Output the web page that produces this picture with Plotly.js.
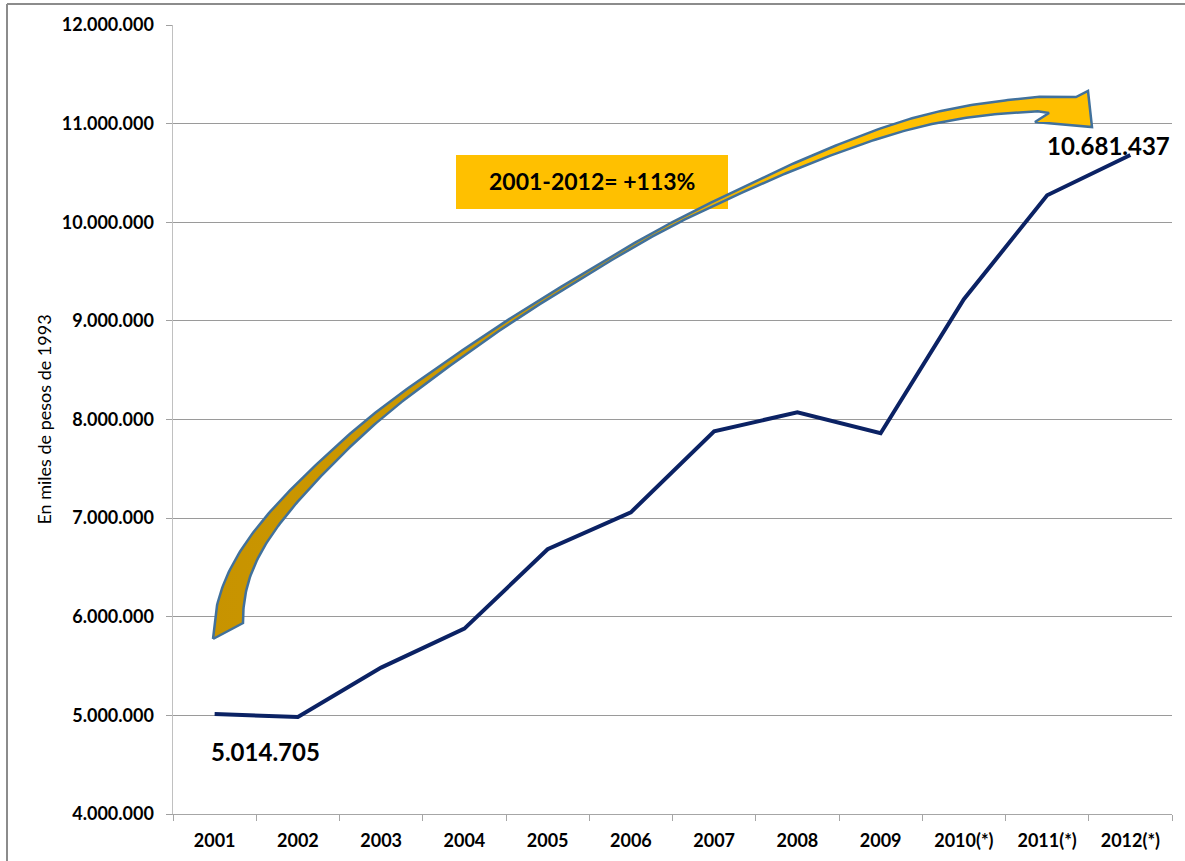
<!DOCTYPE html>
<html>
<head>
<meta charset="utf-8">
<script src="https://cdn.plot.ly/plotly-3.0.1.min.js"></script>
<style>html,body{margin:0;padding:0;background:#fff;}#chart{width:1185px;height:861px;}</style>
</head>
<body>
<div id="chart"></div>
<script>
// ---- data ----
const years = ['2001','2002','2003','2004','2005','2006','2007','2008','2009','2010(*)','2011(*)','2012(*)'];
const gdp = [5014705, 4983000, 5484000, 5879000, 6684000, 7059000, 7880000, 8073000, 7860000, 9219000, 10274000, 10681437];
const yTitle = 'En miles de pesos de 1993';

// ---- layout geometry ----
const W = 1185, H = 861, L = 173, R = 1172, T = 25, B = 814;
const FONT = 'Lato, "Open Sans", sans-serif';

function fmt(v){ return String(Math.round(v)).replace(/\B(?=(\d{3})+(?!\d))/g, '.'); }
const growth = Math.round((gdp[gdp.length-1] / gdp[0] - 1) * 100);
const growthText = years[0] + '-' + years[years.length-1].replace('(*)','') + '= +' + growth + '%';

function px2paperX(px){ return (px - L) / (R - L); }
function px2paperY(py){ return (B - py) / (B - T); }

// ---- decorative curved arrow: centre line + half widths (pixel space, hidden pixel axes) ----
const arrowCenter = [[228,631],[225,612],[226,600],[232,580],[255,540],[272,518],[306,482],[370,420],[423,381],[507,322],[567,285],[667,225],[728,197],[790,167],[840,148],[890,128],[945,114],[1000,106],[1040,104]];
const arrowHalf   = [15,15,13.5,10,8.5,7.5,6,4.3,3.2,2,1.6,1.5,2,3,3.8,4.8,5.5,6.2,7.2];
const tailOuter = [213,639], tailInner = [243,623];
const headPts = [[1076,97],[1088,91],[1092,127],[1035,122],[1049,113]];

function buildArrow(){
  const P = arrowCenter, cs = [], hs = [];
  let skip = 0;
  for (let i = 0; i < P.length - 1; i++){
    const a = P[i], b = P[i+1];
    const steps = Math.max(1, Math.ceil(Math.hypot(b[0]-a[0], b[1]-a[1]) / 3));
    if (i === 0) skip = steps;
    for (let k = 0; k < steps; k++){
      const t = k/steps;
      cs.push([a[0] + (b[0]-a[0])*t, a[1] + (b[1]-a[1])*t]);
      hs.push(arrowHalf[i] + (arrowHalf[i+1]-arrowHalf[i])*t);
    }
  }
  cs.push(P[P.length-1]); hs.push(arrowHalf[arrowHalf.length-1]);
  // smoothing passes
  let c = cs, h = hs; const N = c.length, K = 7;
  for (let pass = 0; pass < 8; pass++){
    const nc = [], nh = [];
    for (let i = 0; i < N; i++){
      const w = Math.min(K, i, N-1-i);
      let sx = 0, sy = 0, sh = 0;
      for (let j = i-w; j <= i+w; j++){ sx += c[j][0]; sy += c[j][1]; sh += h[j]; }
      const m = 2*w + 1;
      nc.push([sx/m, sy/m]); nh.push(sh/m);
    }
    c = nc; h = nh;
  }
  const outer = [], inner = [];
  for (let j = 0; j < N; j++){
    const a = c[Math.max(j-2,0)], b = c[Math.min(j+2,N-1)];
    let dx = b[0]-a[0], dy = b[1]-a[1]; const len = Math.hypot(dx,dy) || 1; dx/=len; dy/=len;
    const nx = dy, ny = -dx; // upper-left side
    outer.push([c[j][0] + nx*h[j], c[j][1] + ny*h[j]]);
    inner.push([c[j][0] - nx*h[j], c[j][1] - ny*h[j]]);
  }
  const o = [tailOuter].concat(outer.slice(skip));
  const iN = inner.slice(skip).reverse().concat([tailInner]);
  const all = o.concat(headPts, iN);
  all.push(tailOuter);
  return all;
}
const arrowPts = buildArrow();

const traces = [
  {
    type: 'scatter', mode: 'lines', x: years, y: gdp,
    line: {color: '#0B2264', width: 4},
    hoverinfo: 'skip', xaxis: 'x', yaxis: 'y'
  },
  {
    type: 'scatter', mode: 'lines',
    x: arrowPts.map(p => p[0]), y: arrowPts.map(p => p[1]),
    fill: 'toself',
    fillgradient: {type: 'horizontal', start: 200, stop: 1095,
      colorscale: [[0,'#C79300'],[0.45,'#D09D00'],[0.66,'#FFC000'],[1,'#FFC000']]},
    line: {color: '#41719C', width: 2.5},
    hoverinfo: 'skip', xaxis: 'x2', yaxis: 'y2'
  }
];

const tickFont = {family: FONT, size: 18, weight: 'bold', color: '#000'};

const layout = {
  width: W, height: H, autosize: false,
  margin: {l: L, r: W - R, t: T, b: H - B, pad: 0},
  paper_bgcolor: '#ffffff', plot_bgcolor: 'rgba(0,0,0,0)',
  separators: ',.',
  showlegend: false,
  xaxis: {
    type: 'category', range: [-0.5, 11.5], tickson: 'boundaries',
    ticks: 'outside', ticklen: 6, tickcolor: '#A6A6A6', tickwidth: 1,
    showline: true, linecolor: '#A6A6A6', linewidth: 1,
    showgrid: false, zeroline: false, tickfont: tickFont, ticklabelstandoff: 10,
    fixedrange: true
  },
  yaxis: {
    range: [4000000, 12000000], tick0: 0, dtick: 1000000, tickformat: ',',
    ticks: 'outside', ticklen: 6, tickcolor: '#A0A0A0', tickwidth: 1,
    showline: true, linecolor: '#C0C0C0', linewidth: 1.5,
    showgrid: true, gridcolor: '#9A9A9A', gridwidth: 1, zeroline: false,
    tickfont: tickFont, ticklabelstandoff: 8,
    title: {text: yTitle, font: {family: FONT, size: 18, color: '#000'}, standoff: 5},
    automargin: false, fixedrange: true
  },
  xaxis2: {overlaying: 'x', anchor: 'y2', range: [L, R], visible: false, fixedrange: true},
  yaxis2: {overlaying: 'y', anchor: 'x2', range: [B, T], visible: false, fixedrange: true},
  shapes: [
    {type: 'rect', xref: 'x2', yref: 'y2', x0: 456, x1: 728, y0: 155, y1: 209,
     fillcolor: '#FFC000', line: {width: 0}, layer: 'below'},
    {type: 'line', xref: 'paper', yref: 'paper', x0: px2paperX(7), x1: px2paperX(7), y0: px2paperY(862), y1: px2paperY(4),
     line: {color: '#8C8C8C', width: 2}},
    {type: 'line', xref: 'paper', yref: 'paper', x0: px2paperX(7), x1: px2paperX(1186), y0: px2paperY(4), y1: px2paperY(4),
     line: {color: '#8C8C8C', width: 2}}
  ],
  annotations: [
    {xref: 'x2', yref: 'y2', x: 592, y: 181, text: growthText, showarrow: false,
     xanchor: 'center', yanchor: 'middle', font: {family: FONT, size: 23, weight: 'bold', color: '#000'}},
    {xref: 'x', yref: 'y', x: 0, y: gdp[0], text: fmt(gdp[0]), showarrow: false,
     xanchor: 'center', yanchor: 'middle', xshift: 51, yshift: -38,
     font: {family: FONT, size: 24, weight: 'bold', color: '#000'}},
    {xref: 'x', yref: 'y', x: years.length - 1, y: gdp[gdp.length-1], text: fmt(gdp[gdp.length-1]), showarrow: false,
     xanchor: 'center', yanchor: 'middle', xshift: -22, yshift: 10,
     font: {family: FONT, size: 24, weight: 'bold', color: '#000'}}
  ]
};

Plotly.newPlot('chart', traces, layout, {staticPlot: true, displayModeBar: false});
</script>
</body>
</html>
